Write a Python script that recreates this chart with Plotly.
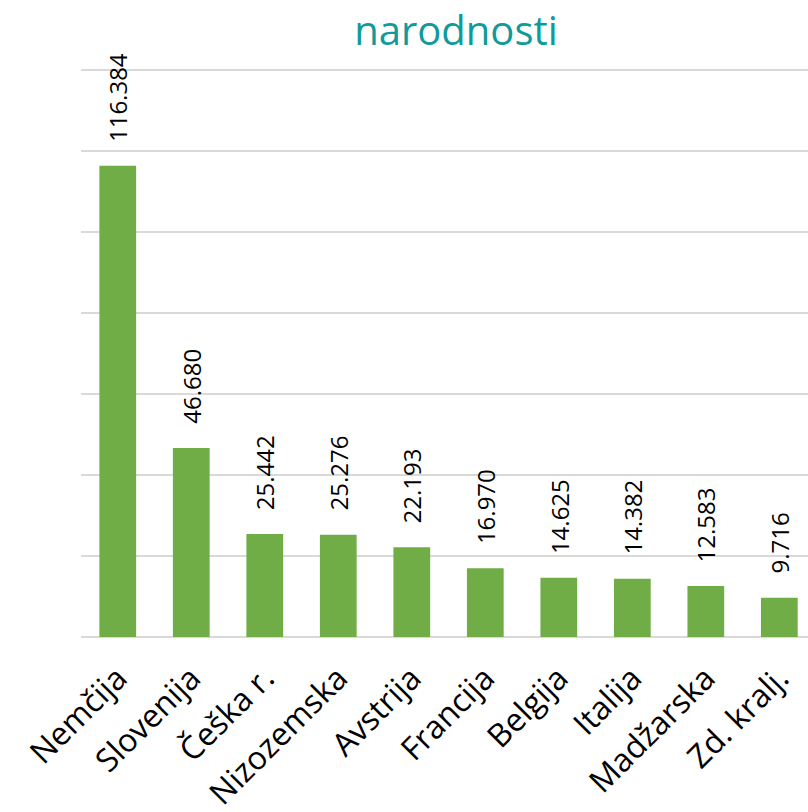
import plotly.graph_objects as go

categories = ["Nemčija", "Slovenija", "Češka r.", "Nizozemska", "Avstrija",
              "Francija", "Belgija", "Italija", "Madžarska", "Zd. kralj."]
values = [116384, 46680, 25442, 25276, 22193, 16970, 14625, 14382, 12583, 9716]
title_text = "narodnosti"

FONT = "Open Sans"
W, H = 808, 812

def fmt(v):
    return f"{v:,}".replace(",", ".")

fig = go.Figure()
fig.add_trace(go.Bar(
    x=categories, y=values,
    marker=dict(color="#70AD47", line=dict(width=0)),
    width=0.5,
    hoverinfo="x+y",
))

annotations = []
for c, v in zip(categories, values):
    annotations.append(dict(
        x=c, y=v, xref="x", yref="y",
        text=fmt(v), textangle=-90,
        xanchor="center", yanchor="bottom", yshift=22,
        showarrow=False,
        font=dict(family=FONT, size=24, color="#000000"),
    ))

fig.update_layout(
    width=W, height=H,
    margin=dict(l=81, r=0, t=69, b=175, pad=0, autoexpand=False),
    paper_bgcolor="white", plot_bgcolor="white",
    showlegend=False,
    title=dict(text=title_text, x=456/W, xanchor="center", xref="container",
               y=1 - 30.5/H, yanchor="middle", yref="container",
               font=dict(family=FONT, size=40, color="#0f9b9b")),
    annotations=annotations,
    xaxis=dict(
        range=[-0.5, 9.39], showgrid=False, showline=False, ticks="",
        tickangle=-45, tickfont=dict(family=FONT, size=32, color="#000000"),
        ticklabelstandoff=15, automargin=False,
    ),
    yaxis=dict(
        range=[0, 140300], dtick=20000, tick0=0, showticklabels=False,
        showgrid=True, gridcolor="#d9d9d9", gridwidth=1.5,
        zeroline=True, zerolinecolor="#d9d9d9", zerolinewidth=1.5,
        showline=False, ticks="", automargin=False,
    ),
)

fig.write_html(
    "out.html",
    config={"displayModeBar": False},
    post_script="document.body.style.margin='0';document.body.style.overflow='hidden';",
)
